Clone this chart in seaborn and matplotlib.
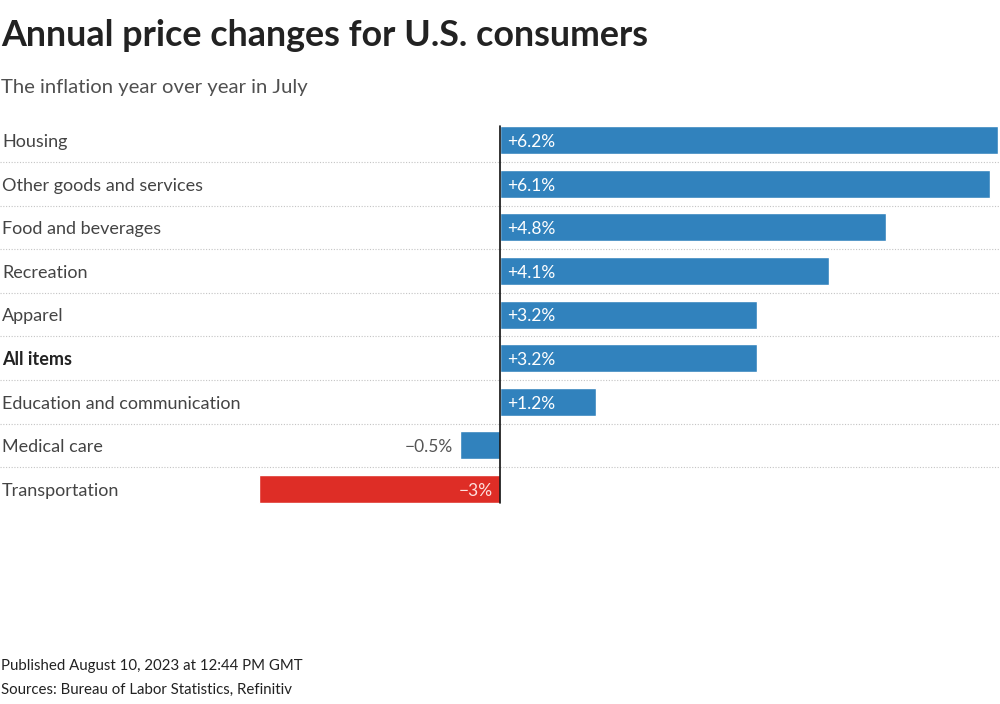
# Horizontal bar chart of annual US price changes by category
import pandas as pd
import matplotlib.pyplot as plt
import seaborn as sns

## Data
categories = ["Housing", "Other goods and services", "Food and beverages", "Recreation",
              "Apparel", "All items", "Education and communication", "Medical care",
              "Transportation"]
changes = [6.2, 6.1, 4.8, 4.1, 3.2, 3.2, 1.2, -0.5, -3.0]
value_labels = ["+6.2%", "+6.1%", "+4.8%", "+4.1%", "+3.2%", "+3.2%", "+1.2%", "\u22120.5%", "\u22123%"]

# colours
BLUE, RED = "#3182bd", "#de2d26"
TXT, GREY = "#222222", "#444444"

sns.set_theme(style="white")
plt.rcParams["font.family"] = ["Lato", "DejaVu Sans"]

df = pd.DataFrame({"category": categories, "change": changes})
bar_colors = [RED if c <= -1 else BLUE for c in changes]

fig = plt.figure(figsize=(10, 7.04), dpi=100)
# axes: rows start at y=118px and each row is ~43.6px tall
H = 704
ax = fig.add_axes([0, 1 - (118.4 + 9 * 43.6) / H, 1, 9 * 43.6 / H])
sns.barplot(data=df, y="category", x="change", hue="category", palette=bar_colors,
            orient="h", width=0.64, legend=False, ax=ax, saturation=1)
ax.set_xlim(-6.225, 6.225)
ax.set_ylim(8.5, -0.5)
ax.axis("off")

# dotted separators between rows
for i in range(len(categories) - 1):
    ax.plot([-6.225, 6.225], [i + 0.5, i + 0.5], ls=(0, (1, 1.5)), lw=0.8, color="#c4c4c4", zorder=0)

# zero line
ax.plot([0, 0], [-0.32, len(categories) - 1 + 0.32], color="#111111", lw=1.2, zorder=5)

for i, (cat, val, lab) in enumerate(zip(categories, changes, value_labels)):
    ax.text(0.002, i + 0.04, cat, transform=ax.get_yaxis_transform(), ha="left", va="center",
            fontsize=13, color=TXT if cat == "All items" else GREY,
            fontweight="bold" if cat == "All items" else "normal")
    if val > 0:
        ax.text(0.09, i + 0.04, lab, ha="left", va="center", fontsize=12.5, color="white", zorder=6)
    elif val > -1:
        ax.text(val - 0.09, i + 0.04, lab, ha="right", va="center", fontsize=12.5, color="#555555")
    else:
        ax.text(-0.09, i + 0.04, lab, ha="right", va="center", fontsize=12.5, color="#fde0dd", zorder=6)

# title, subtitle and footer
fig.text(0.001, 1 - 36 / H, "Annual price changes for U.S. consumers", fontsize=25.8,
         fontweight="bold", color=TXT, va="center")
fig.text(0.001, 1 - 87 / H, "The inflation year over year in July", fontsize=14.6,
         color="#505050", va="center")
fig.text(0.001, 1 - 666 / H, "Published August 10, 2023 at 12:44 PM GMT", fontsize=10.8,
         color=TXT, va="center")
fig.text(0.001, 1 - 690 / H, "Sources: Bureau of Labor Statistics, Refinitiv", fontsize=10.8,
         color=TXT, va="center")

plt.savefig("out.png", dpi=100, facecolor="white")
plt.close()
